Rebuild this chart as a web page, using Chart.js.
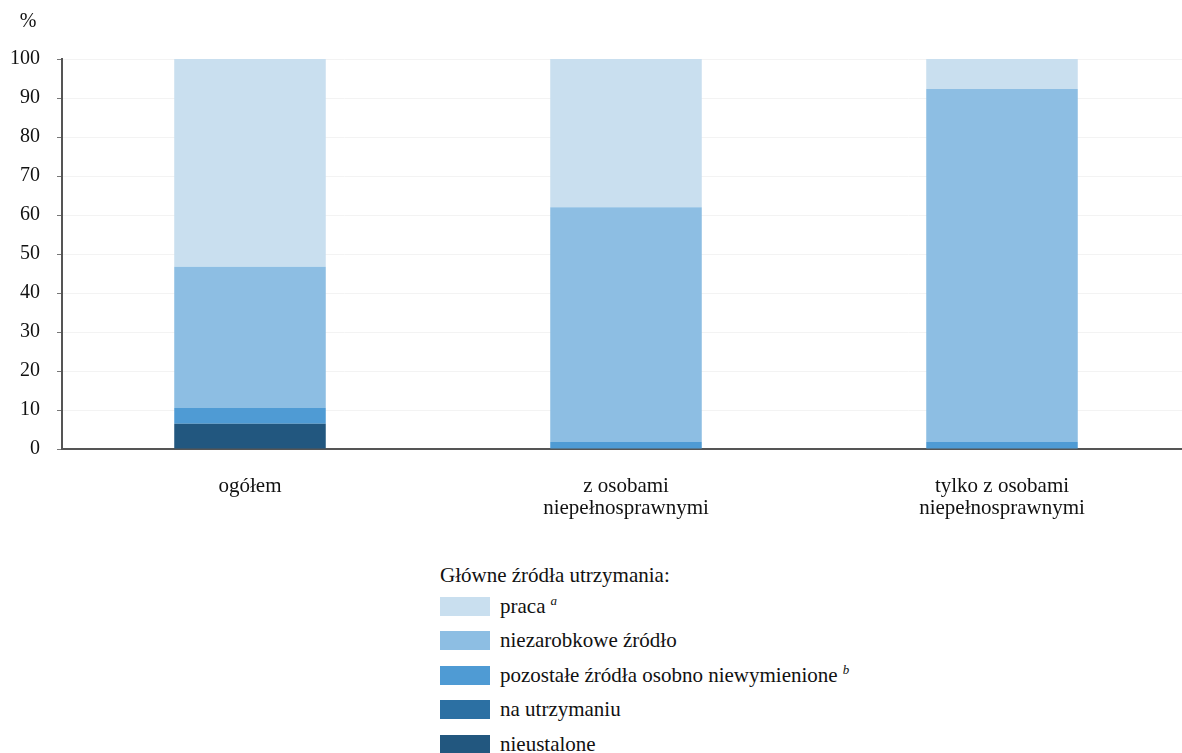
<!DOCTYPE html>
<html>
<head>
<meta charset="utf-8">
<script src="https://cdn.jsdelivr.net/npm/chart.js@4"></script>
<style>
  html, body { margin: 0; padding: 0; background: #fff; overflow: hidden; }
  #wrap { position: relative; width: 1182px; height: 753px; overflow: hidden; }
  #chart { position: absolute; left: 0; top: 0; }
  #legend {
    position: absolute; left: 440px; top: 561px;
    font-family: 'Liberation Serif', 'Times New Roman', serif; font-size: 21px; color: #111;
  }
  #legend .title { height: 28px; line-height: 28px; }
  #legend .row { display: flex; align-items: center; height: 34.5px; }
  #legend .box { width: 50px; height: 19px; margin-right: 10px; }
  #legend sup { font-style: italic; font-size: 13px; margin-left: 5px; align-self: flex-start; margin-top: 4px; }
</style>
</head>
<body>
<div id="wrap">
  <canvas id="chart" width="1190" height="540"></canvas>
  <div id="legend"></div>
</div>
<script>
const categories = ['ogółem', ['z osobami', 'niepełnosprawnymi'], ['tylko z osobami', 'niepełnosprawnymi']]
const yTicks = [0, 10, 20, 30, 40, 50, 60, 70, 80, 90, 100]

// bottom to top
const nieustalone = [6.5, 0, 0]
const naUtrzymaniu = [0, 0, 0]
const pozostale = [4.0, 1.8, 1.8]
const niezarobkowe = [36.2, 60.2, 90.5]
const praca = [53.3, 38.0, 7.7]

const series = [
  { label: 'nieustalone', data: nieustalone, color: '#22577f' },
  { label: 'na utrzymaniu', data: naUtrzymaniu, color: '#2c70a3' },
  { label: 'pozostałe źródła osobno niewymienione', note: 'b', data: pozostale, color: '#4f9bd4' },
  { label: 'niezarobkowe źródło', data: niezarobkowe, color: '#8dbee3' },
  { label: 'praca', note: 'a', data: praca, color: '#c9dfef' }
]

const serif = "'Liberation Serif', 'Times New Roman', serif"

// the "%" unit sits above the y axis, not rotated
const unitLabel = {
  id: 'unitLabel',
  afterDraw(chart) {
    const { ctx, chartArea } = chart
    ctx.save()
    ctx.font = '20px ' + serif
    ctx.fillStyle = '#111'
    ctx.textAlign = 'center'
    ctx.textBaseline = 'middle'
    ctx.fillText('%', chartArea.left - 34, 22)
    ctx.restore()
  }
}

new Chart(document.getElementById('chart'), {
  type: 'bar',
  data: {
    labels: categories,
    datasets: series.map((s) => ({
      label: s.label,
      data: s.data,
      backgroundColor: s.color,
      borderWidth: 0,
      barPercentage: 0.403,
      categoryPercentage: 1
    }))
  },
  plugins: [unitLabel],
  options: {
    responsive: false,
    animation: false,
    layout: { padding: { top: 59, left: 8, right: 0, bottom: 0 } },
    scales: {
      x: {
        stacked: true,
        afterFit: (axis) => { axis.height = 91 },
        grid: { display: false, drawTicks: false },
        border: { color: '#555', width: 2 },
        ticks: { color: '#111', font: { family: serif, size: 21, lineHeight: 1.02 }, padding: 27, maxRotation: 0 }
      },
      y: {
        stacked: true,
        min: 0,
        max: 100,
        afterFit: (axis) => { axis.width = 54 },
        afterBuildTicks: (axis) => { axis.ticks = yTicks.map((value) => ({ value })) },
        grid: { color: '#f3f3f3', tickColor: '#777', tickLength: 5 },
        border: { color: '#555', width: 2 },
        ticks: { color: '#111', font: { family: serif, size: 20 }, padding: 17 }
      }
    },
    plugins: {
      legend: { display: false },
      tooltip: { enabled: false }
    }
  }
})

// legend lists the series top-down, as stacked
const legend = document.getElementById('legend')
legend.innerHTML = '<div class="title">Główne źródła utrzymania:</div>' +
  series.slice().reverse().map((s) =>
    '<div class="row"><span class="box" style="background:' + s.color + '"></span>' +
    s.label + (s.note ? '<sup>' + s.note + '</sup>' : '') + '</div>'
  ).join('')
</script>
</body>
</html>
